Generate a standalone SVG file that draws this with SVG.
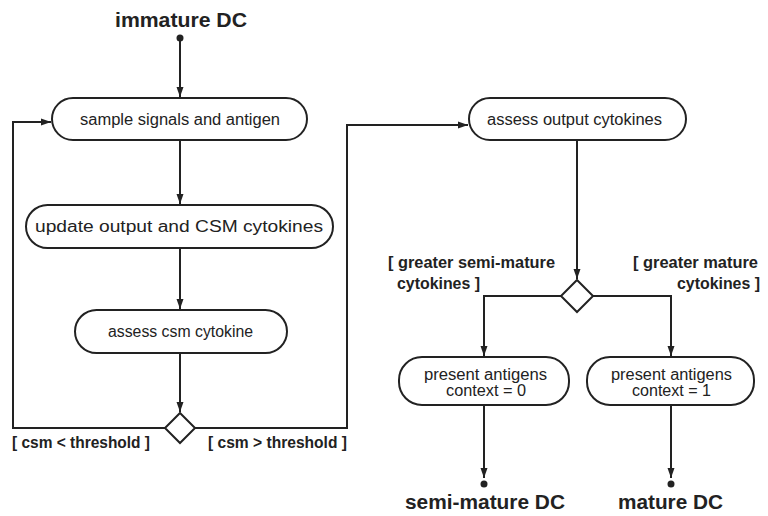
<svg xmlns="http://www.w3.org/2000/svg" width="768" height="516" viewBox="0 0 768 516">
<style>
.box{fill:#fff;stroke:#222;stroke-width:2}
.dia{fill:#fff;stroke:#222;stroke-width:2}
.ln{fill:none;stroke:#222;stroke-width:2}
.t{font-family:"Liberation Sans",Arial,sans-serif;font-size:16px;fill:#222;text-anchor:middle}
.b{font-family:"Liberation Sans",Arial,sans-serif;font-size:16px;font-weight:bold;fill:#222}
.big{font-family:"Liberation Sans",Arial,sans-serif;font-size:20px;font-weight:bold;fill:#222;text-anchor:middle}
.dot{fill:#222}
</style>
<defs>
<marker id="ar" markerUnits="userSpaceOnUse" markerWidth="10" markerHeight="10" viewBox="0 0 10 10" refX="10" refY="5" orient="auto">
<path d="M0,1.5 L10,5 L0,8.5 Z" fill="#222"/>
</marker>
</defs>
<g id="connectors">
<line class="ln" x1="180" y1="38" x2="180" y2="97" marker-end="url(#ar)"/>
<line class="ln" x1="180" y1="140" x2="180" y2="204" marker-end="url(#ar)"/>
<line class="ln" x1="180" y1="248" x2="180" y2="309" marker-end="url(#ar)"/>
<line class="ln" x1="180" y1="353" x2="180" y2="412" marker-end="url(#ar)"/>
<path class="ln" d="M165,428 H13 V122 H51" marker-end="url(#ar)"/>
<path class="ln" d="M195,428 H347 V125 H468" marker-end="url(#ar)"/>
<line class="ln" x1="577" y1="140" x2="577" y2="279" marker-end="url(#ar)"/>
<path class="ln" d="M561,296 H484 V356" marker-end="url(#ar)"/>
<path class="ln" d="M593,296 H671 V356" marker-end="url(#ar)"/>
<line class="ln" x1="484" y1="405" x2="484" y2="478" marker-end="url(#ar)"/>
<line class="ln" x1="671" y1="405" x2="671" y2="478" marker-end="url(#ar)"/>
</g>
<g id="start">
<circle class="dot" cx="180" cy="38" r="3.5"/>
<text class="big" x="181" y="27" textLength="132" lengthAdjust="spacingAndGlyphs">immature DC</text>
</g>
<g id="sample">
<rect class="box" x="52" y="98" width="255" height="42" rx="21"/>
<text class="t" x="180" y="125" textLength="200" lengthAdjust="spacingAndGlyphs">sample signals and antigen</text>
</g>
<g id="update">
<rect class="box" x="26" y="205" width="307" height="43" rx="21.5"/>
<text class="t" x="179" y="232" textLength="288" lengthAdjust="spacingAndGlyphs">update output and CSM cytokines</text>
</g>
<g id="assess-csm">
<rect class="box" x="75" y="310" width="212" height="43" rx="21.5"/>
<text class="t" x="180.5" y="337" textLength="145" lengthAdjust="spacingAndGlyphs">assess csm cytokine</text>
</g>
<g id="decision1">
<path class="dia" d="M180,413 L195,428 L180,443 L165,428 Z"/>
<text class="b" x="12" y="448" textLength="138" lengthAdjust="spacingAndGlyphs">[ csm &lt; threshold ]</text>
<text class="b" x="208" y="448" textLength="139" lengthAdjust="spacingAndGlyphs">[ csm &gt; threshold ]</text>
</g>
<g id="assess-output">
<rect class="box" x="469" y="98" width="217" height="42" rx="21"/>
<text class="t" x="574.5" y="125" textLength="175" lengthAdjust="spacingAndGlyphs">assess output cytokines</text>
</g>
<g id="decision2">
<path class="dia" d="M577,280 L593,296 L577,312 L561,296 Z"/>
<text class="b" x="388" y="268" textLength="167" lengthAdjust="spacingAndGlyphs">[ greater semi-mature</text>
<text class="b" x="397" y="289" textLength="83" lengthAdjust="spacingAndGlyphs">cytokines ]</text>
<text class="b" x="633" y="268" textLength="125" lengthAdjust="spacingAndGlyphs">[ greater mature</text>
<text class="b" x="677" y="289" textLength="83" lengthAdjust="spacingAndGlyphs">cytokines ]</text>
</g>
<g id="present0">
<rect class="box" x="399" y="357" width="170" height="48" rx="23"/>
<text class="t" x="485.5" y="380" textLength="123" lengthAdjust="spacingAndGlyphs">present antigens</text>
<text class="t" x="486" y="396" textLength="80" lengthAdjust="spacingAndGlyphs">context = 0</text>
</g>
<g id="present1">
<rect class="box" x="587" y="357" width="167" height="48" rx="23"/>
<text class="t" x="671.5" y="380" textLength="121" lengthAdjust="spacingAndGlyphs">present antigens</text>
<text class="t" x="671.5" y="396" textLength="79" lengthAdjust="spacingAndGlyphs">context = 1</text>
</g>
<g id="end-semi">
<circle class="dot" cx="484" cy="484" r="3.5"/>
<text class="big" x="485" y="509" textLength="160" lengthAdjust="spacingAndGlyphs">semi-mature DC</text>
</g>
<g id="end-mature">
<circle class="dot" cx="671" cy="484" r="3.5"/>
<text class="big" x="670.5" y="509" textLength="105" lengthAdjust="spacingAndGlyphs">mature DC</text>
</g>
</svg>
